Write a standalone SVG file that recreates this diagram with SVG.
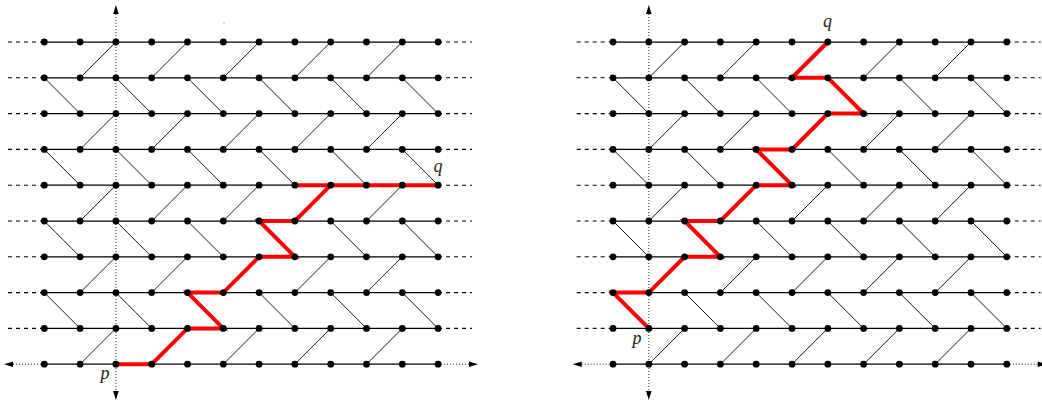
<svg xmlns="http://www.w3.org/2000/svg" width="1042" height="404" viewBox="0 0 1042 404">
<style>
.h{stroke:#000;stroke-width:1.25;fill:none}
.d{stroke:#000;stroke-width:0.9;fill:none}
.ds{stroke:#000;stroke-width:1.1;stroke-dasharray:4 4;fill:none}
.dt{stroke:#222;stroke-width:1;stroke-dasharray:1 2;fill:none}
.ah{fill:#000}
.red{stroke:#f00;stroke-width:4;fill:none;stroke-linejoin:miter}
.n circle{fill:#000}
.lb{font-family:"Liberation Serif",serif;font-style:italic;font-size:18px;fill:#222;text-anchor:middle}
</style>
<rect width="1042" height="404" fill="#fff"/>
<circle cx="224" cy="23" r="0.7" fill="#888"/>

<!-- LEFT PANEL -->
<g id="left-panel">
<g id="left-connectors">
<path class="h" d="M44.3 42H438.1M44.3 77.8H438.1M44.3 113.6H438.1M44.3 149.4H438.1M44.3 185.2H438.1M44.3 221H438.1M44.3 256.8H438.1M44.3 292.6H438.1M44.3 328.4H438.1M44.3 364.2H438.1"/>
<path class="ds" d="M8 42H44.3M8 77.8H44.3M8 113.6H44.3M8 149.4H44.3M8 185.2H44.3M8 221H44.3M8 256.8H44.3M8 292.6H44.3M8 328.4H44.3"/>
<path class="ds" d="M438.1 42H472M438.1 77.8H472M438.1 113.6H472M438.1 149.4H472M438.1 185.2H472M438.1 221H472M438.1 256.8H472M438.1 292.6H472M438.1 328.4H472"/>
<path class="dt" d="M13 364.2H44.3M438.1 364.2H469M115.9 14V391"/>
<path class="ah" d="M4 364.2L13 361.4L13 367ZM478 364.2L469 361.4L469 367ZM115.9 5L113.1 14L118.7 14ZM115.9 400L113.1 391L118.7 391Z"/>
<path class="d" d="M80.1 77.8l35.8-35.8M151.7 77.8l35.8-35.8M223.3 77.8l35.8-35.8M294.9 77.8l35.8-35.8M366.5 77.8l35.8-35.8
M80.1 149.4l35.8-35.8M151.7 149.4l35.8-35.8M223.3 149.4l35.8-35.8M294.9 149.4l35.8-35.8M366.5 149.4l35.8-35.8
M80.1 221l35.8-35.8M151.7 221l35.8-35.8M223.3 221l35.8-35.8M294.9 221l35.8-35.8M366.5 221l35.8-35.8
M80.1 292.6l35.8-35.8M151.7 292.6l35.8-35.8M223.3 292.6l35.8-35.8M294.9 292.6l35.8-35.8M366.5 292.6l35.8-35.8
M80.1 364.2l35.8-35.8M151.7 364.2l35.8-35.8M223.3 364.2l35.8-35.8M294.9 364.2l35.8-35.8M366.5 364.2l35.8-35.8
M44.3 77.8l35.8 35.8M115.9 77.8l35.8 35.8M187.5 77.8l35.8 35.8M259.1 77.8l35.8 35.8M330.7 77.8l35.8 35.8M402.3 77.8l35.8 35.8
M44.3 149.4l35.8 35.8M115.9 149.4l35.8 35.8M187.5 149.4l35.8 35.8M259.1 149.4l35.8 35.8M330.7 149.4l35.8 35.8M402.3 149.4l35.8 35.8
M44.3 221l35.8 35.8M115.9 221l35.8 35.8M187.5 221l35.8 35.8M259.1 221l35.8 35.8M330.7 221l35.8 35.8M402.3 221l35.8 35.8
M44.3 292.6l35.8 35.8M115.9 292.6l35.8 35.8M187.5 292.6l35.8 35.8M259.1 292.6l35.8 35.8M330.7 292.6l35.8 35.8M402.3 292.6l35.8 35.8"/>
<path class="red" d="M115.9 364.2H151.7L187.5 328.4H223.3L187.5 292.6H223.3L259.1 256.8H294.9L259.1 221H294.9L330.7 185.2H438.1M294.9 185.2H330.7"/>
</g>
<g class="n">
<g id="L0-0"><circle cx="44.3" cy="42" r="3.4"/></g><g id="L0-1"><circle cx="80.1" cy="42" r="3.4"/></g><g id="L0-2"><circle cx="115.9" cy="42" r="3.4"/></g><g id="L0-3"><circle cx="151.7" cy="42" r="3.4"/></g><g id="L0-4"><circle cx="187.5" cy="42" r="3.4"/></g><g id="L0-5"><circle cx="223.3" cy="42" r="3.4"/></g><g id="L0-6"><circle cx="259.1" cy="42" r="3.4"/></g><g id="L0-7"><circle cx="294.9" cy="42" r="3.4"/></g><g id="L0-8"><circle cx="330.7" cy="42" r="3.4"/></g><g id="L0-9"><circle cx="366.5" cy="42" r="3.4"/></g><g id="L0-10"><circle cx="402.3" cy="42" r="3.4"/></g><g id="L0-11"><circle cx="438.1" cy="42" r="3.4"/></g>
<g id="L1-0"><circle cx="44.3" cy="77.8" r="3.4"/></g><g id="L1-1"><circle cx="80.1" cy="77.8" r="3.4"/></g><g id="L1-2"><circle cx="115.9" cy="77.8" r="3.4"/></g><g id="L1-3"><circle cx="151.7" cy="77.8" r="3.4"/></g><g id="L1-4"><circle cx="187.5" cy="77.8" r="3.4"/></g><g id="L1-5"><circle cx="223.3" cy="77.8" r="3.4"/></g><g id="L1-6"><circle cx="259.1" cy="77.8" r="3.4"/></g><g id="L1-7"><circle cx="294.9" cy="77.8" r="3.4"/></g><g id="L1-8"><circle cx="330.7" cy="77.8" r="3.4"/></g><g id="L1-9"><circle cx="366.5" cy="77.8" r="3.4"/></g><g id="L1-10"><circle cx="402.3" cy="77.8" r="3.4"/></g><g id="L1-11"><circle cx="438.1" cy="77.8" r="3.4"/></g>
<g id="L2-0"><circle cx="44.3" cy="113.6" r="3.4"/></g><g id="L2-1"><circle cx="80.1" cy="113.6" r="3.4"/></g><g id="L2-2"><circle cx="115.9" cy="113.6" r="3.4"/></g><g id="L2-3"><circle cx="151.7" cy="113.6" r="3.4"/></g><g id="L2-4"><circle cx="187.5" cy="113.6" r="3.4"/></g><g id="L2-5"><circle cx="223.3" cy="113.6" r="3.4"/></g><g id="L2-6"><circle cx="259.1" cy="113.6" r="3.4"/></g><g id="L2-7"><circle cx="294.9" cy="113.6" r="3.4"/></g><g id="L2-8"><circle cx="330.7" cy="113.6" r="3.4"/></g><g id="L2-9"><circle cx="366.5" cy="113.6" r="3.4"/></g><g id="L2-10"><circle cx="402.3" cy="113.6" r="3.4"/></g><g id="L2-11"><circle cx="438.1" cy="113.6" r="3.4"/></g>
<g id="L3-0"><circle cx="44.3" cy="149.4" r="3.4"/></g><g id="L3-1"><circle cx="80.1" cy="149.4" r="3.4"/></g><g id="L3-2"><circle cx="115.9" cy="149.4" r="3.4"/></g><g id="L3-3"><circle cx="151.7" cy="149.4" r="3.4"/></g><g id="L3-4"><circle cx="187.5" cy="149.4" r="3.4"/></g><g id="L3-5"><circle cx="223.3" cy="149.4" r="3.4"/></g><g id="L3-6"><circle cx="259.1" cy="149.4" r="3.4"/></g><g id="L3-7"><circle cx="294.9" cy="149.4" r="3.4"/></g><g id="L3-8"><circle cx="330.7" cy="149.4" r="3.4"/></g><g id="L3-9"><circle cx="366.5" cy="149.4" r="3.4"/></g><g id="L3-10"><circle cx="402.3" cy="149.4" r="3.4"/></g><g id="L3-11"><circle cx="438.1" cy="149.4" r="3.4"/></g>
<g id="L4-0"><circle cx="44.3" cy="185.2" r="3.4"/></g><g id="L4-1"><circle cx="80.1" cy="185.2" r="3.4"/></g><g id="L4-2"><circle cx="115.9" cy="185.2" r="3.4"/></g><g id="L4-3"><circle cx="151.7" cy="185.2" r="3.4"/></g><g id="L4-4"><circle cx="187.5" cy="185.2" r="3.4"/></g><g id="L4-5"><circle cx="223.3" cy="185.2" r="3.4"/></g><g id="L4-6"><circle cx="259.1" cy="185.2" r="3.4"/></g><g id="L4-7"><circle cx="294.9" cy="185.2" r="3.4"/></g><g id="L4-8"><circle cx="330.7" cy="185.2" r="3.4"/></g><g id="L4-9"><circle cx="366.5" cy="185.2" r="3.4"/></g><g id="L4-10"><circle cx="402.3" cy="185.2" r="3.4"/></g><g id="L4-11"><circle cx="438.1" cy="185.2" r="3.4"/></g>
<g id="L5-0"><circle cx="44.3" cy="221" r="3.4"/></g><g id="L5-1"><circle cx="80.1" cy="221" r="3.4"/></g><g id="L5-2"><circle cx="115.9" cy="221" r="3.4"/></g><g id="L5-3"><circle cx="151.7" cy="221" r="3.4"/></g><g id="L5-4"><circle cx="187.5" cy="221" r="3.4"/></g><g id="L5-5"><circle cx="223.3" cy="221" r="3.4"/></g><g id="L5-6"><circle cx="259.1" cy="221" r="3.4"/></g><g id="L5-7"><circle cx="294.9" cy="221" r="3.4"/></g><g id="L5-8"><circle cx="330.7" cy="221" r="3.4"/></g><g id="L5-9"><circle cx="366.5" cy="221" r="3.4"/></g><g id="L5-10"><circle cx="402.3" cy="221" r="3.4"/></g><g id="L5-11"><circle cx="438.1" cy="221" r="3.4"/></g>
<g id="L6-0"><circle cx="44.3" cy="256.8" r="3.4"/></g><g id="L6-1"><circle cx="80.1" cy="256.8" r="3.4"/></g><g id="L6-2"><circle cx="115.9" cy="256.8" r="3.4"/></g><g id="L6-3"><circle cx="151.7" cy="256.8" r="3.4"/></g><g id="L6-4"><circle cx="187.5" cy="256.8" r="3.4"/></g><g id="L6-5"><circle cx="223.3" cy="256.8" r="3.4"/></g><g id="L6-6"><circle cx="259.1" cy="256.8" r="3.4"/></g><g id="L6-7"><circle cx="294.9" cy="256.8" r="3.4"/></g><g id="L6-8"><circle cx="330.7" cy="256.8" r="3.4"/></g><g id="L6-9"><circle cx="366.5" cy="256.8" r="3.4"/></g><g id="L6-10"><circle cx="402.3" cy="256.8" r="3.4"/></g><g id="L6-11"><circle cx="438.1" cy="256.8" r="3.4"/></g>
<g id="L7-0"><circle cx="44.3" cy="292.6" r="3.4"/></g><g id="L7-1"><circle cx="80.1" cy="292.6" r="3.4"/></g><g id="L7-2"><circle cx="115.9" cy="292.6" r="3.4"/></g><g id="L7-3"><circle cx="151.7" cy="292.6" r="3.4"/></g><g id="L7-4"><circle cx="187.5" cy="292.6" r="3.4"/></g><g id="L7-5"><circle cx="223.3" cy="292.6" r="3.4"/></g><g id="L7-6"><circle cx="259.1" cy="292.6" r="3.4"/></g><g id="L7-7"><circle cx="294.9" cy="292.6" r="3.4"/></g><g id="L7-8"><circle cx="330.7" cy="292.6" r="3.4"/></g><g id="L7-9"><circle cx="366.5" cy="292.6" r="3.4"/></g><g id="L7-10"><circle cx="402.3" cy="292.6" r="3.4"/></g><g id="L7-11"><circle cx="438.1" cy="292.6" r="3.4"/></g>
<g id="L8-0"><circle cx="44.3" cy="328.4" r="3.4"/></g><g id="L8-1"><circle cx="80.1" cy="328.4" r="3.4"/></g><g id="L8-2"><circle cx="115.9" cy="328.4" r="3.4"/></g><g id="L8-3"><circle cx="151.7" cy="328.4" r="3.4"/></g><g id="L8-4"><circle cx="187.5" cy="328.4" r="3.4"/></g><g id="L8-5"><circle cx="223.3" cy="328.4" r="3.4"/></g><g id="L8-6"><circle cx="259.1" cy="328.4" r="3.4"/></g><g id="L8-7"><circle cx="294.9" cy="328.4" r="3.4"/></g><g id="L8-8"><circle cx="330.7" cy="328.4" r="3.4"/></g><g id="L8-9"><circle cx="366.5" cy="328.4" r="3.4"/></g><g id="L8-10"><circle cx="402.3" cy="328.4" r="3.4"/></g><g id="L8-11"><circle cx="438.1" cy="328.4" r="3.4"/></g>
<g id="L9-0"><circle cx="44.3" cy="364.2" r="3.4"/></g><g id="L9-1"><circle cx="80.1" cy="364.2" r="3.4"/></g><g id="L9-2"><circle cx="115.9" cy="364.2" r="3.4"/></g><g id="L9-3"><circle cx="151.7" cy="364.2" r="3.4"/></g><g id="L9-4"><circle cx="187.5" cy="364.2" r="3.4"/></g><g id="L9-5"><circle cx="223.3" cy="364.2" r="3.4"/></g><g id="L9-6"><circle cx="259.1" cy="364.2" r="3.4"/></g><g id="L9-7"><circle cx="294.9" cy="364.2" r="3.4"/></g><g id="L9-8"><circle cx="330.7" cy="364.2" r="3.4"/></g><g id="L9-9"><circle cx="366.5" cy="364.2" r="3.4"/></g><g id="L9-10"><circle cx="402.3" cy="364.2" r="3.4"/></g><g id="L9-11"><circle cx="438.1" cy="364.2" r="3.4"/></g>
</g>
<text class="lb" x="105" y="379">p</text>
<text class="lb" x="438" y="172">q</text>
</g>

<!-- RIGHT PANEL -->
<g id="right-panel" transform="translate(568.7 0)">
<g id="right-connectors">
<path class="h" d="M44.3 42H438.1M44.3 77.8H438.1M44.3 113.6H438.1M44.3 149.4H438.1M44.3 185.2H438.1M44.3 221H438.1M44.3 256.8H438.1M44.3 292.6H438.1M44.3 328.4H438.1M44.3 364.2H438.1"/>
<path class="ds" d="M8 42H44.3M8 77.8H44.3M8 113.6H44.3M8 149.4H44.3M8 185.2H44.3M8 221H44.3M8 256.8H44.3M8 292.6H44.3M8 328.4H44.3"/>
<path class="ds" d="M438.1 42H472M438.1 77.8H472M438.1 113.6H472M438.1 149.4H472M438.1 185.2H472M438.1 221H472M438.1 256.8H472M438.1 292.6H472M438.1 328.4H472"/>
<path class="dt" d="M13 364.2H44.3M438.1 364.2H469M80.1 14V391"/>
<path class="ah" d="M4 364.2L13 361.4L13 367ZM478 364.2L469 361.4L469 367ZM80.1 5L77.3 14L82.9 14ZM80.1 400L77.3 391L82.9 391Z"/>
<path class="d" d="M80.1 77.8l35.8-35.8M151.7 77.8l35.8-35.8M223.3 77.8l35.8-35.8M294.9 77.8l35.8-35.8M366.5 77.8l35.8-35.8
M80.1 149.4l35.8-35.8M151.7 149.4l35.8-35.8M223.3 149.4l35.8-35.8M294.9 149.4l35.8-35.8M366.5 149.4l35.8-35.8
M80.1 221l35.8-35.8M151.7 221l35.8-35.8M223.3 221l35.8-35.8M294.9 221l35.8-35.8M366.5 221l35.8-35.8
M80.1 292.6l35.8-35.8M151.7 292.6l35.8-35.8M223.3 292.6l35.8-35.8M294.9 292.6l35.8-35.8M366.5 292.6l35.8-35.8
M80.1 364.2l35.8-35.8M151.7 364.2l35.8-35.8M223.3 364.2l35.8-35.8M294.9 364.2l35.8-35.8M366.5 364.2l35.8-35.8
M44.3 77.8l35.8 35.8M115.9 77.8l35.8 35.8M187.5 77.8l35.8 35.8M259.1 77.8l35.8 35.8M330.7 77.8l35.8 35.8M402.3 77.8l35.8 35.8
M44.3 149.4l35.8 35.8M115.9 149.4l35.8 35.8M187.5 149.4l35.8 35.8M259.1 149.4l35.8 35.8M330.7 149.4l35.8 35.8M402.3 149.4l35.8 35.8
M44.3 221l35.8 35.8M115.9 221l35.8 35.8M187.5 221l35.8 35.8M259.1 221l35.8 35.8M330.7 221l35.8 35.8M402.3 221l35.8 35.8
M44.3 292.6l35.8 35.8M115.9 292.6l35.8 35.8M187.5 292.6l35.8 35.8M259.1 292.6l35.8 35.8M330.7 292.6l35.8 35.8M402.3 292.6l35.8 35.8"/>
<path class="red" d="M80.1 328.4L44.3 292.6H80.1L115.9 256.8H151.7L115.9 221H151.7L187.5 185.2H223.3L187.5 149.4H223.3L259.1 113.6H294.9L259.1 77.8H223.3L259.1 42"/>
</g>
<g class="n">
<g id="R0-0"><circle cx="44.3" cy="42" r="3.4"/></g><g id="R0-1"><circle cx="80.1" cy="42" r="3.4"/></g><g id="R0-2"><circle cx="115.9" cy="42" r="3.4"/></g><g id="R0-3"><circle cx="151.7" cy="42" r="3.4"/></g><g id="R0-4"><circle cx="187.5" cy="42" r="3.4"/></g><g id="R0-5"><circle cx="223.3" cy="42" r="3.4"/></g><g id="R0-6"><circle cx="259.1" cy="42" r="3.4"/></g><g id="R0-7"><circle cx="294.9" cy="42" r="3.4"/></g><g id="R0-8"><circle cx="330.7" cy="42" r="3.4"/></g><g id="R0-9"><circle cx="366.5" cy="42" r="3.4"/></g><g id="R0-10"><circle cx="402.3" cy="42" r="3.4"/></g><g id="R0-11"><circle cx="438.1" cy="42" r="3.4"/></g>
<g id="R1-0"><circle cx="44.3" cy="77.8" r="3.4"/></g><g id="R1-1"><circle cx="80.1" cy="77.8" r="3.4"/></g><g id="R1-2"><circle cx="115.9" cy="77.8" r="3.4"/></g><g id="R1-3"><circle cx="151.7" cy="77.8" r="3.4"/></g><g id="R1-4"><circle cx="187.5" cy="77.8" r="3.4"/></g><g id="R1-5"><circle cx="223.3" cy="77.8" r="3.4"/></g><g id="R1-6"><circle cx="259.1" cy="77.8" r="3.4"/></g><g id="R1-7"><circle cx="294.9" cy="77.8" r="3.4"/></g><g id="R1-8"><circle cx="330.7" cy="77.8" r="3.4"/></g><g id="R1-9"><circle cx="366.5" cy="77.8" r="3.4"/></g><g id="R1-10"><circle cx="402.3" cy="77.8" r="3.4"/></g><g id="R1-11"><circle cx="438.1" cy="77.8" r="3.4"/></g>
<g id="R2-0"><circle cx="44.3" cy="113.6" r="3.4"/></g><g id="R2-1"><circle cx="80.1" cy="113.6" r="3.4"/></g><g id="R2-2"><circle cx="115.9" cy="113.6" r="3.4"/></g><g id="R2-3"><circle cx="151.7" cy="113.6" r="3.4"/></g><g id="R2-4"><circle cx="187.5" cy="113.6" r="3.4"/></g><g id="R2-5"><circle cx="223.3" cy="113.6" r="3.4"/></g><g id="R2-6"><circle cx="259.1" cy="113.6" r="3.4"/></g><g id="R2-7"><circle cx="294.9" cy="113.6" r="3.4"/></g><g id="R2-8"><circle cx="330.7" cy="113.6" r="3.4"/></g><g id="R2-9"><circle cx="366.5" cy="113.6" r="3.4"/></g><g id="R2-10"><circle cx="402.3" cy="113.6" r="3.4"/></g><g id="R2-11"><circle cx="438.1" cy="113.6" r="3.4"/></g>
<g id="R3-0"><circle cx="44.3" cy="149.4" r="3.4"/></g><g id="R3-1"><circle cx="80.1" cy="149.4" r="3.4"/></g><g id="R3-2"><circle cx="115.9" cy="149.4" r="3.4"/></g><g id="R3-3"><circle cx="151.7" cy="149.4" r="3.4"/></g><g id="R3-4"><circle cx="187.5" cy="149.4" r="3.4"/></g><g id="R3-5"><circle cx="223.3" cy="149.4" r="3.4"/></g><g id="R3-6"><circle cx="259.1" cy="149.4" r="3.4"/></g><g id="R3-7"><circle cx="294.9" cy="149.4" r="3.4"/></g><g id="R3-8"><circle cx="330.7" cy="149.4" r="3.4"/></g><g id="R3-9"><circle cx="366.5" cy="149.4" r="3.4"/></g><g id="R3-10"><circle cx="402.3" cy="149.4" r="3.4"/></g><g id="R3-11"><circle cx="438.1" cy="149.4" r="3.4"/></g>
<g id="R4-0"><circle cx="44.3" cy="185.2" r="3.4"/></g><g id="R4-1"><circle cx="80.1" cy="185.2" r="3.4"/></g><g id="R4-2"><circle cx="115.9" cy="185.2" r="3.4"/></g><g id="R4-3"><circle cx="151.7" cy="185.2" r="3.4"/></g><g id="R4-4"><circle cx="187.5" cy="185.2" r="3.4"/></g><g id="R4-5"><circle cx="223.3" cy="185.2" r="3.4"/></g><g id="R4-6"><circle cx="259.1" cy="185.2" r="3.4"/></g><g id="R4-7"><circle cx="294.9" cy="185.2" r="3.4"/></g><g id="R4-8"><circle cx="330.7" cy="185.2" r="3.4"/></g><g id="R4-9"><circle cx="366.5" cy="185.2" r="3.4"/></g><g id="R4-10"><circle cx="402.3" cy="185.2" r="3.4"/></g><g id="R4-11"><circle cx="438.1" cy="185.2" r="3.4"/></g>
<g id="R5-0"><circle cx="44.3" cy="221" r="3.4"/></g><g id="R5-1"><circle cx="80.1" cy="221" r="3.4"/></g><g id="R5-2"><circle cx="115.9" cy="221" r="3.4"/></g><g id="R5-3"><circle cx="151.7" cy="221" r="3.4"/></g><g id="R5-4"><circle cx="187.5" cy="221" r="3.4"/></g><g id="R5-5"><circle cx="223.3" cy="221" r="3.4"/></g><g id="R5-6"><circle cx="259.1" cy="221" r="3.4"/></g><g id="R5-7"><circle cx="294.9" cy="221" r="3.4"/></g><g id="R5-8"><circle cx="330.7" cy="221" r="3.4"/></g><g id="R5-9"><circle cx="366.5" cy="221" r="3.4"/></g><g id="R5-10"><circle cx="402.3" cy="221" r="3.4"/></g><g id="R5-11"><circle cx="438.1" cy="221" r="3.4"/></g>
<g id="R6-0"><circle cx="44.3" cy="256.8" r="3.4"/></g><g id="R6-1"><circle cx="80.1" cy="256.8" r="3.4"/></g><g id="R6-2"><circle cx="115.9" cy="256.8" r="3.4"/></g><g id="R6-3"><circle cx="151.7" cy="256.8" r="3.4"/></g><g id="R6-4"><circle cx="187.5" cy="256.8" r="3.4"/></g><g id="R6-5"><circle cx="223.3" cy="256.8" r="3.4"/></g><g id="R6-6"><circle cx="259.1" cy="256.8" r="3.4"/></g><g id="R6-7"><circle cx="294.9" cy="256.8" r="3.4"/></g><g id="R6-8"><circle cx="330.7" cy="256.8" r="3.4"/></g><g id="R6-9"><circle cx="366.5" cy="256.8" r="3.4"/></g><g id="R6-10"><circle cx="402.3" cy="256.8" r="3.4"/></g><g id="R6-11"><circle cx="438.1" cy="256.8" r="3.4"/></g>
<g id="R7-0"><circle cx="44.3" cy="292.6" r="3.4"/></g><g id="R7-1"><circle cx="80.1" cy="292.6" r="3.4"/></g><g id="R7-2"><circle cx="115.9" cy="292.6" r="3.4"/></g><g id="R7-3"><circle cx="151.7" cy="292.6" r="3.4"/></g><g id="R7-4"><circle cx="187.5" cy="292.6" r="3.4"/></g><g id="R7-5"><circle cx="223.3" cy="292.6" r="3.4"/></g><g id="R7-6"><circle cx="259.1" cy="292.6" r="3.4"/></g><g id="R7-7"><circle cx="294.9" cy="292.6" r="3.4"/></g><g id="R7-8"><circle cx="330.7" cy="292.6" r="3.4"/></g><g id="R7-9"><circle cx="366.5" cy="292.6" r="3.4"/></g><g id="R7-10"><circle cx="402.3" cy="292.6" r="3.4"/></g><g id="R7-11"><circle cx="438.1" cy="292.6" r="3.4"/></g>
<g id="R8-0"><circle cx="44.3" cy="328.4" r="3.4"/></g><g id="R8-1"><circle cx="80.1" cy="328.4" r="3.4"/></g><g id="R8-2"><circle cx="115.9" cy="328.4" r="3.4"/></g><g id="R8-3"><circle cx="151.7" cy="328.4" r="3.4"/></g><g id="R8-4"><circle cx="187.5" cy="328.4" r="3.4"/></g><g id="R8-5"><circle cx="223.3" cy="328.4" r="3.4"/></g><g id="R8-6"><circle cx="259.1" cy="328.4" r="3.4"/></g><g id="R8-7"><circle cx="294.9" cy="328.4" r="3.4"/></g><g id="R8-8"><circle cx="330.7" cy="328.4" r="3.4"/></g><g id="R8-9"><circle cx="366.5" cy="328.4" r="3.4"/></g><g id="R8-10"><circle cx="402.3" cy="328.4" r="3.4"/></g><g id="R8-11"><circle cx="438.1" cy="328.4" r="3.4"/></g>
<g id="R9-0"><circle cx="44.3" cy="364.2" r="3.4"/></g><g id="R9-1"><circle cx="80.1" cy="364.2" r="3.4"/></g><g id="R9-2"><circle cx="115.9" cy="364.2" r="3.4"/></g><g id="R9-3"><circle cx="151.7" cy="364.2" r="3.4"/></g><g id="R9-4"><circle cx="187.5" cy="364.2" r="3.4"/></g><g id="R9-5"><circle cx="223.3" cy="364.2" r="3.4"/></g><g id="R9-6"><circle cx="259.1" cy="364.2" r="3.4"/></g><g id="R9-7"><circle cx="294.9" cy="364.2" r="3.4"/></g><g id="R9-8"><circle cx="330.7" cy="364.2" r="3.4"/></g><g id="R9-9"><circle cx="366.5" cy="364.2" r="3.4"/></g><g id="R9-10"><circle cx="402.3" cy="364.2" r="3.4"/></g><g id="R9-11"><circle cx="438.1" cy="364.2" r="3.4"/></g>
</g>
<text class="lb" x="68.3" y="344">p</text>
<text class="lb" x="258.8" y="27">q</text>
</g>
</svg>
